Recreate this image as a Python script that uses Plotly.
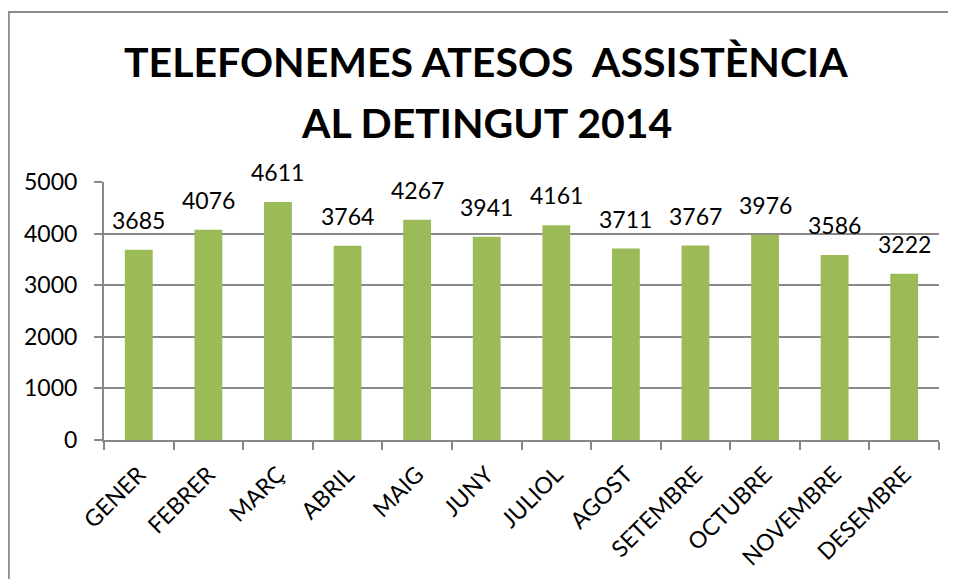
import plotly.graph_objects as go

months = ["GENER", "FEBRER", "MARÇ", "ABRIL", "MAIG", "JUNY", "JULIOL",
          "AGOST", "SETEMBRE", "OCTUBRE", "NOVEMBRE", "DESEMBRE"]
calls = [3685, 4076, 4611, 3764, 4267, 3941, 4161, 3711, 3767, 3976, 3586, 3222]
y_ticks = [0, 1000, 2000, 3000, 4000, 5000]
title_line1 = "TELEFONEMES ATESOS  ASSISTÈNCIA"
title_line2 = "AL DETINGUT 2014"

FONT = "Lato"
GRID = "#888888"

# The page body has an 8px margin, so the figure is drawn 8px down/right.
W, H = 948, 571
L, R, T, B = 96, 17, 174, 139
PW = W - L - R
PH = H - T - B

fig = go.Figure()
fig.add_trace(go.Bar(
    x=months, y=calls,
    marker=dict(color="#9BBB59", line=dict(width=0)),
    hoverinfo="x+y",
))

annotations = []
for m, v in zip(months, calls):
    annotations.append(dict(
        x=m, y=v, xref="x", yref="y", text=str(v), showarrow=False,
        yanchor="bottom", yshift=14,
        font=dict(family=FONT, size=23, color="#000000"),
    ))

tx = 0.46 - 2 / PW
annotations.append(dict(
    x=tx, y=1.461 + 2 / PH, xref="paper", yref="paper", text=f"<b>{title_line1}</b>",
    showarrow=False, xanchor="center", yanchor="middle",
    font=dict(family=FONT, size=41, color="#000000"),
))
annotations.append(dict(
    x=tx, y=1.2248 + 2 / PH, xref="paper", yref="paper", text=f"<b>{title_line2}</b>",
    showarrow=False, xanchor="center", yanchor="middle",
    font=dict(family=FONT, size=41, color="#000000"),
))

fig.update_layout(
    width=W, height=H,
    margin=dict(l=L, r=R, t=T, b=B, pad=0),
    paper_bgcolor="white", plot_bgcolor="white",
    bargap=0.6,
    showlegend=False,
    annotations=annotations,
    shapes=[dict(
        type="rect", xref="paper", yref="paper",
        x0=(0.8 - L) / PW, x1=1.3, y0=-0.8, y1=1 + (T - 4) / PH,
        line=dict(color="#8c8c8c", width=2), fillcolor="rgba(0,0,0,0)",
        layer="below",
    )],
    xaxis=dict(
        type="category", tickangle=-45, tickson="boundaries",
        ticks="outside", ticklen=8, tickcolor=GRID, tickwidth=2,
        showline=True, linecolor=GRID, linewidth=2,
        showgrid=False, automargin=False,
        tickfont=dict(family=FONT, size=23, color="#000000"),
        ticklabelstandoff=10,
    ),
    yaxis=dict(
        range=[0, 5000], tickvals=y_ticks,
        ticks="outside", ticklen=8, tickcolor=GRID, tickwidth=2,
        showline=True, linecolor=GRID, linewidth=2,
        showgrid=True, gridcolor=GRID, gridwidth=2,
        zeroline=False, automargin=False,
        tickfont=dict(family=FONT, size=23, color="#000000"),
        ticklabelstandoff=12,
    ),
)

fig.write_html("out.html")
